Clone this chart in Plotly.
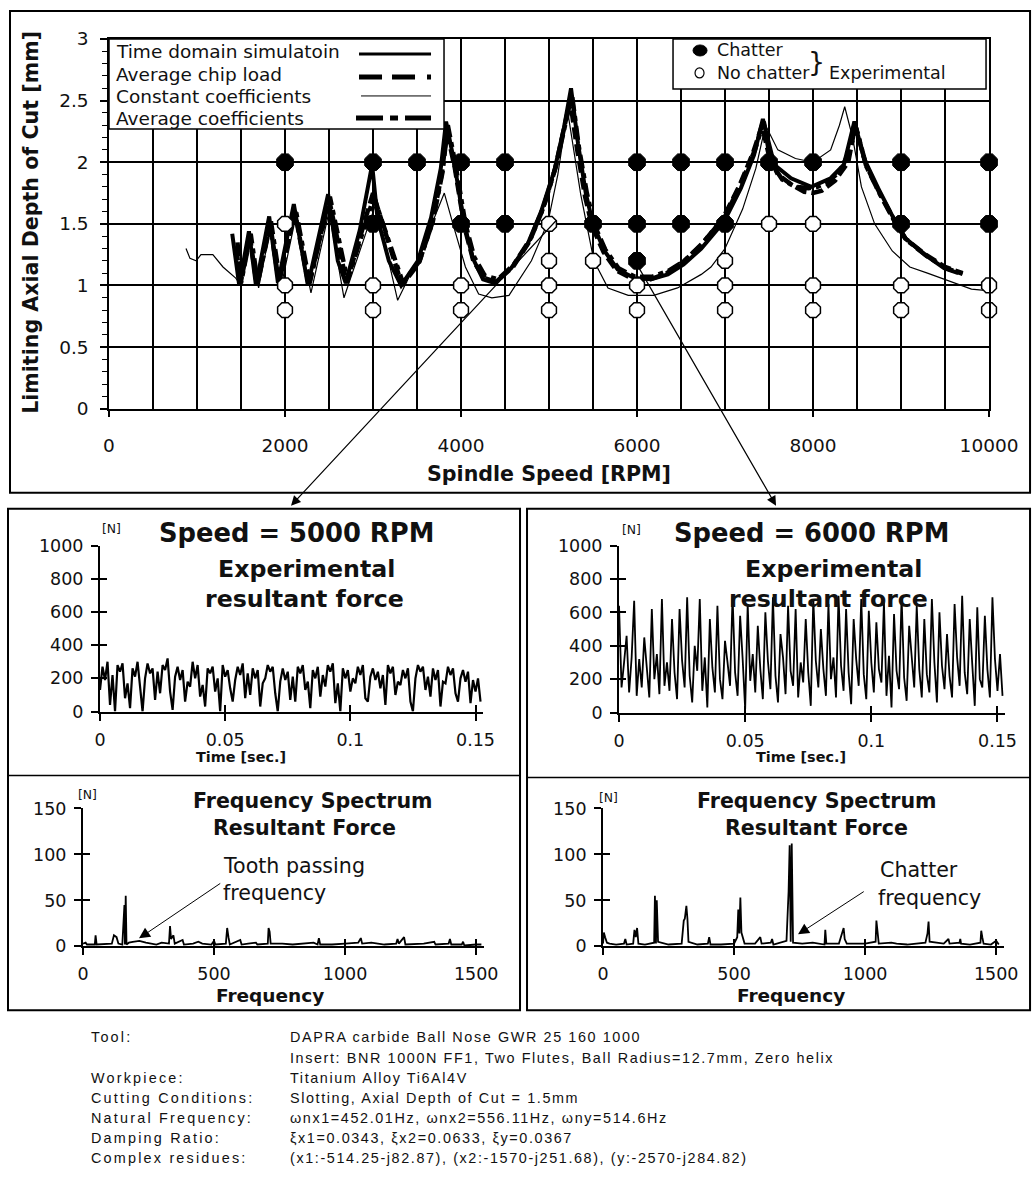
import plotly.graph_objects as go

# ---------------- data: stability lobes (Spindle Speed [RPM] vs Limiting Axial Depth of Cut [mm]) ----------------
td_rpm = [1400, 1480, 1590, 1670, 1820, 1920, 2100, 2260, 2490, 2600, 2690, 2850, 2990, 3050, 3180, 3320,
          3510, 3660, 3770, 3830, 3920, 4035, 4135, 4250, 4380, 4570, 4760, 4910, 5060, 5170, 5250, 5330,
          5420, 5500, 5630, 5780, 5970, 6160, 6350, 6530, 6730, 6990, 7180, 7330, 7430, 7560, 7750, 7980,
          8200, 8350, 8470, 8580, 8740, 8890, 9040, 9270, 9490, 9650]
td_doc = [1.42, 1.0, 1.44, 1.0, 1.56, 1.02, 1.66, 1.0, 1.74, 1.2, 1.02, 1.45, 1.98, 1.55, 1.2, 1.0,
          1.2, 1.55, 1.95, 2.33, 2.01, 1.5, 1.22, 1.05, 1.02, 1.14, 1.34, 1.6, 1.93, 2.28, 2.6, 2.15,
          1.74, 1.5, 1.28, 1.13, 1.06, 1.05, 1.09, 1.17, 1.3, 1.52, 1.79, 2.06, 2.35, 1.98, 1.87, 1.8,
          1.87, 1.98, 2.33, 2.03, 1.79, 1.58, 1.39, 1.25, 1.14, 1.1]

acl_rpm = [1450, 1490, 1600, 1680, 1830, 1930, 2110, 2270, 2500, 2700, 3000, 3330, 3520, 3670, 3780, 3840,
           3930, 4040, 4140, 4260, 4400, 4590, 4780, 4930, 5070, 5180, 5240, 5320, 5410, 5490, 5620, 5770,
           5960, 6150, 6340, 6520, 6720, 6980, 7170, 7320, 7420, 7500, 7600, 7750, 7900, 8000, 8100, 8250,
           8400, 8480, 8600, 8750, 8900, 9050, 9280, 9500, 9700]
acl_doc = [1.3, 1.0, 1.4, 1.0, 1.5, 1.03, 1.6, 1.0, 1.7, 1.02, 1.75, 1.0, 1.18, 1.5, 1.9, 2.25,
           1.95, 1.47, 1.2, 1.06, 1.03, 1.15, 1.36, 1.62, 1.95, 2.3, 2.5, 2.1, 1.72, 1.48, 1.27, 1.12,
           1.05, 1.05, 1.1, 1.19, 1.32, 1.55, 1.82, 2.08, 2.3, 2.05, 1.9, 1.82, 1.76, 1.75, 1.77, 1.85,
           2.0, 2.3, 1.98, 1.76, 1.56, 1.38, 1.25, 1.15, 1.1]

aco_rpm = [1460, 1500, 1610, 1690, 1840, 1940, 2120, 2280, 2510, 2710, 3010, 3340, 3530, 3680, 3790, 3850,
           3940, 4050, 4150, 4270, 4420, 4600, 4790, 4940, 5080, 5190, 5260, 5340, 5430, 5510, 5640, 5790,
           5980, 6170, 6360, 6540, 6740, 7000, 7190, 7340, 7440, 7520, 7650, 7800, 7950, 8050, 8150, 8300,
           8420, 8490, 8610, 8760, 8910, 9060, 9290, 9510, 9720]
aco_doc = [1.35, 1.02, 1.42, 1.02, 1.52, 1.05, 1.62, 1.02, 1.72, 1.04, 1.72, 1.02, 1.2, 1.52, 1.92, 2.3,
           1.97, 1.5, 1.23, 1.08, 1.05, 1.17, 1.38, 1.64, 1.97, 2.32, 2.55, 2.12, 1.75, 1.5, 1.29, 1.14,
           1.07, 1.07, 1.12, 1.2, 1.34, 1.56, 1.84, 2.1, 2.33, 2.0, 1.86, 1.8, 1.79, 1.8, 1.83, 1.92,
           2.1, 2.28, 1.96, 1.74, 1.54, 1.37, 1.24, 1.14, 1.09]

cc_rpm = [875, 920, 990, 1045, 1180, 1295, 1440, 1500, 1600, 1700, 1830, 1950, 2120, 2295, 2500, 2670,
          3030, 3280, 3500, 3700, 3810, 3920, 4050, 4200, 4350, 4545, 4800, 4990, 5100, 5210, 5360, 5510,
          5670, 5900, 6190, 6460, 6730, 6840, 7000, 7200, 7350, 7460, 7600, 7800, 8000, 8200, 8300, 8360,
          8450, 8550, 8700, 8900, 9100, 9300, 9500, 9700, 9800, 9950]
cc_doc = [1.3, 1.22, 1.2, 1.25, 1.25, 1.15, 1.06, 1.0, 1.35, 0.98, 1.45, 0.97, 1.55, 0.94, 1.6, 0.9,
          1.66, 0.88, 1.2, 1.55, 1.75, 1.47, 1.15, 0.93, 0.9, 0.92, 1.2, 1.52, 1.9, 2.42, 1.74, 1.2,
          0.98, 0.92, 0.92, 0.98, 1.09, 1.15, 1.3, 1.62, 1.95, 2.3, 2.1, 2.03, 2.0, 2.1, 2.3, 2.45,
          2.2, 1.8, 1.5, 1.28, 1.15, 1.1, 1.05, 1.0, 0.97, 0.96]

chatter_rpm = [2000, 3000, 3500, 4000, 4500, 6000, 6500, 7000, 7500, 8000, 9000, 10000,
               3000, 4000, 4500, 5500, 6000, 6500, 7000, 9000, 10000, 6000]
chatter_doc = [2.0, 2.0, 2.0, 2.0, 2.0, 2.0, 2.0, 2.0, 2.0, 2.0, 2.0, 2.0,
               1.5, 1.5, 1.5, 1.5, 1.5, 1.5, 1.5, 1.5, 1.5, 1.2]
nochat_rpm = [2000, 2000, 2000, 3000, 3000, 4000, 4000, 5000, 5000, 5000, 5000, 5500, 6000, 6000,
              7000, 7000, 7000, 7500, 8000, 8000, 8000, 9000, 9000, 10000, 10000]
nochat_doc = [1.5, 1.0, 0.8, 1.0, 0.8, 1.0, 0.8, 1.5, 1.2, 1.0, 0.8, 1.2, 1.0, 0.8,
              1.2, 1.0, 0.8, 1.5, 1.5, 1.0, 0.8, 1.0, 0.8, 1.0, 0.8]

main_xticks = [0, 2000, 4000, 6000, 8000, 10000]

# ---------------- data: measured resultant force [N], sampled every 1 ms ----------------
dt = 0.001
force_5000 = [
    130, 270, 190, 300, 40, 220, 0, 280, 240, 290, 80, 170, 20, 260, 210, 300, 150, 0,
    200, 290, 230, 260, 70, 240, 110, 280, 250, 320, 120, 10, 210, 270, 190, 250, 60, 180,
    150, 300, 200, 280, 90, 160, 30, 260, 230, 270, 120, 200, 0, 280, 210, 250, 140, 60,
    190, 270, 220, 290, 80, 230, 100, 260, 200, 250, 30, 170, 200, 280, 240, 270, 110, 0,
    180, 260, 190, 240, 70, 210, 60, 270, 230, 280, 130, 180, 20, 250, 200, 270, 90, 220,
    150, 280, 240, 290, 50, 170, 0, 260, 200, 250, 120, 200, 170, 270, 220, 280, 80, 60,
    210, 260, 190, 240, 140, 220, 40, 280, 230, 270, 100, 180, 160, 250, 200, 260, 60, 0,
    200, 280, 240, 270, 130, 210, 90, 260, 190, 250, 30, 180, 170, 270, 220, 260, 110, 60,
    200, 250, 180, 240, 50, 190, 120, 200, 60]
force_6000 = [
    640, 150, 300, 460, 120, 330, 670, 100, 320, 150, 450, 280, 90, 620, 200, 350, 110, 680, 160, 300,
    130, 560, 240, 80, 620, 310, 150, 690, 220, 60, 400, 250, 680, 130, 330, 30, 560, 270, 120, 640,
    200, 80, 430, 300, 160, 700, 240, 100, 580, 320, 20, 650, 190, 350, 120, 520, 260, 80, 600, 310,
    140, 690, 220, 60, 470, 330, 110, 640, 250, 160, 620, 90, 300, 180, 560, 240, 40, 680, 310, 150,
    500, 260, 100, 650, 200, 330, 90, 700, 280, 130, 620, 240, 50, 560, 320, 160, 680, 230, 80, 610,
    300, 120, 540, 260, 180, 660, 100, 340, 30, 590, 250, 140, 690, 210, 70, 520, 310, 150, 640, 260,
    90, 560, 230, 120, 680, 300, 60, 600, 280, 140, 470, 220, 90, 650, 330, 160, 700, 240, 110, 560,
    290, 40, 630, 200, 150, 580, 260, 90, 690, 320, 130, 350, 100]
time_ticks = [0, 0.05, 0.1, 0.15]
time_ticktext = ["0", "0.05", "0.1", "0.15"]
force_ticks = [0, 200, 400, 600, 800, 1000]

# ---------------- data: frequency spectra [Hz] -> [N] ----------------
spec5000_f = [0, 10, 15, 45, 48, 52, 110, 118, 128, 135, 150, 158, 160, 163, 166, 175, 190, 215, 240,
              280, 300, 328, 332, 336, 345, 350, 380, 385, 420, 440, 455, 490, 500, 505, 545, 550, 555,
              560, 600, 605, 630, 660, 665, 705, 708, 712, 716, 760, 800, 850, 880, 895, 900, 905, 950,
              1000, 1050, 1060, 1065, 1100, 1150, 1195, 1200, 1205, 1225, 1230, 1300, 1340, 1345, 1395,
              1400, 1405, 1445, 1450, 1455, 1500, 1520]
spec5000_a = [3, 4, 2, 2, 12, 2, 3, 12, 10, 3, 2, 45, 2, 55, 2, 4, 5, 6, 4,
              2, 4, 3, 22, 8, 12, 3, 7, 2, 3, 5, 3, 2, 6, 2, 3, 20, 10,
              2, 7, 2, 3, 4, 2, 3, 20, 16, 3, 3, 2, 3, 4, 2, 9, 2, 2,
              3, 4, 9, 3, 4, 2, 3, 8, 3, 10, 2, 3, 5, 2, 3,
              8, 2, 2, 5, 1, 2, 2]
spec6000_f = [0, 3, 8, 15, 25, 50, 80, 85, 90, 115, 120, 125, 130, 135, 160, 195, 198, 202, 205, 210,
              250, 300, 308, 312, 318, 322, 326, 360, 400, 405, 410, 450, 500, 512, 516, 520, 524, 528,
              540, 580, 600, 605, 640, 645, 650, 680, 700, 708, 712, 716, 720, 725, 760, 800, 845, 848,
              852, 900, 918, 922, 930, 1000, 1040, 1043, 1047, 1052, 1100, 1120, 1160, 1230, 1238, 1242,
              1246, 1300, 1318, 1322, 1360, 1363, 1366, 1400, 1440, 1443, 1447, 1452, 1480, 1500, 1510]
spec6000_a = [3, 15, 10, 4, 3, 2, 3, 8, 2, 3, 18, 10, 20, 3, 2, 4, 55, 3, 50, 5,
              2, 3, 28, 30, 44, 30, 5, 2, 3, 10, 2, 2, 3, 10, 40, 14, 53, 15,
              3, 3, 10, 3, 4, 8, 2, 4, 6, 60, 110, 5, 112, 4, 3, 4, 2, 18,
              3, 3, 20, 8, 3, 3, 5, 28, 18, 3, 4, 3, 2, 4, 14, 27,
              5, 3, 8, 3, 4, 8, 3, 2, 4, 17, 10, 3, 2, 6, 2]
freq_ticks = [0, 500, 1000, 1500]
spec_ticks = [0, 50, 100, 150]

# ---------------- layout helpers ----------------
# Positions below are written in the reference picture's pixels and mapped onto the figure canvas.
W, H = 1062, 1188
SX, SY = 0.967, 0.983
OX, OY = 5, 10
FONT = "DejaVu Sans"
TXT = "Liberation Sans, Arial, sans-serif"


def px(v):
    return min(max((v - OX) / SX / W, 0), 1)


def py(v):
    return min(max(1 - (v - OY) / SY / H, 0), 1)


def fs(s):
    return round(s * 1.03, 1)


def axis(domain, rng, anchor, tickvals, ticktext=None, size=17, standoff=4, **kw):
    d = dict(domain=domain, range=rng, anchor=anchor, showline=True, linecolor="black", linewidth=2,
             ticks="outside", tickcolor="black", tickwidth=1.5, ticklen=7, showgrid=False, zeroline=False,
             tickmode="array", tickvals=tickvals, ticktext=ticktext if ticktext else [str(t) for t in tickvals],
             tickfont=dict(family=FONT, size=fs(size), color="#111"), ticklabelstandoff=standoff, fixedrange=True)
    d.update(kw)
    return d


def overlay(base, anchor, rng, tickvals, side):
    return dict(overlaying=base, anchor=anchor, range=rng, side=side, ticks="inside", ticklen=7,
                tickwidth=1.5, tickcolor="black", tickmode="array", tickvals=tickvals, showticklabels=False,
                showline=False, showgrid=False, zeroline=False, fixedrange=True)


fig = go.Figure()

# ---------------- main stability chart ----------------
fig.add_trace(go.Scatter(x=cc_rpm, y=cc_doc, mode="lines", line=dict(color="black", width=1.2),
                         xaxis="x", yaxis="y", showlegend=False))
fig.add_trace(go.Scatter(x=aco_rpm, y=aco_doc, mode="lines",
                         line=dict(color="black", width=4.5, dash="14px,5px,5px,5px"),
                         xaxis="x", yaxis="y", showlegend=False))
fig.add_trace(go.Scatter(x=acl_rpm, y=acl_doc, mode="lines", line=dict(color="black", width=4.5, dash="12px,5px"),
                         xaxis="x", yaxis="y", showlegend=False))
fig.add_trace(go.Scatter(x=td_rpm, y=td_doc, mode="lines", line=dict(color="black", width=4),
                         xaxis="x", yaxis="y", showlegend=False))
fig.add_trace(go.Scatter(x=nochat_rpm, y=nochat_doc, mode="markers",
                         marker=dict(symbol="octagon", size=16, color="white", line=dict(color="black", width=1.5)),
                         xaxis="x", yaxis="y", showlegend=False, cliponaxis=False))
fig.add_trace(go.Scatter(x=chatter_rpm, y=chatter_doc, mode="markers",
                         marker=dict(symbol="octagon", size=18, color="black", line=dict(color="black", width=1)),
                         xaxis="x", yaxis="y", showlegend=False, cliponaxis=False))

# ---------------- force signals ----------------
t5000 = [i * dt for i in range(len(force_5000))]
t6000 = [i * dt for i in range(len(force_6000))]
fig.add_trace(go.Scatter(x=t5000, y=force_5000, mode="lines", line=dict(color="black", width=2.2),
                         xaxis="x2", yaxis="y2", showlegend=False))
fig.add_trace(go.Scatter(x=t6000, y=force_6000, mode="lines", line=dict(color="black", width=1.8),
                         xaxis="x3", yaxis="y3", showlegend=False))
fig.add_trace(go.Scatter(x=spec5000_f, y=spec5000_a, mode="lines", line=dict(color="black", width=1.8),
                         xaxis="x4", yaxis="y4", showlegend=False))
fig.add_trace(go.Scatter(x=spec6000_f, y=spec6000_a, mode="lines", line=dict(color="black", width=1.8),
                         xaxis="x5", yaxis="y5", showlegend=False))

# dummy traces so that the "inside" halves of the cross ticks are drawn
for xa, ya in [("x2", "y6"), ("x6", "y2"), ("x3", "y7"), ("x7", "y3"),
               ("x4", "y8"), ("x8", "y4"), ("x5", "y9"), ("x9", "y5")]:
    fig.add_trace(go.Scatter(x=[None], y=[None], xaxis=xa, yaxis=ya, showlegend=False, hoverinfo="skip"))

TR = [0, 0.153]
FR = [0, 1530]
layout_axes = dict(
    xaxis=dict(domain=[px(108), px(988)], range=[0, 10000], anchor="y", tickmode="array", tickvals=main_xticks,
               ticktext=[str(v) for v in main_xticks], ticks="outside", ticklen=7, tickwidth=1.5,
               tickcolor="black", showgrid=True, gridcolor="black", gridwidth=1.5,
               minor=dict(dtick=500, tick0=0, showgrid=True, gridcolor="black", gridwidth=1.5, ticks=""),
               showline=True, linecolor="black", linewidth=1.5, mirror=True, zeroline=False,
               tickfont=dict(family=FONT, size=fs(18), color="#111"), ticklabelstandoff=12, fixedrange=True),
    yaxis=dict(domain=[py(408), py(38)], range=[0, 3], anchor="x", tickmode="linear", dtick=0.5, tick0=0,
               ticks="outside", ticklen=7, tickwidth=1.5, tickcolor="black", showgrid=True, gridcolor="black",
               gridwidth=1.5, minor=dict(dtick=0.1, ticks="outside", ticklen=5, tickcolor="black", tickwidth=1,
                                         showgrid=False),
               showline=True, linecolor="black", linewidth=1.5, mirror=True, zeroline=False,
               tickfont=dict(family=FONT, size=fs(18), color="#111"), ticklabelstandoff=8, fixedrange=True),
    xaxis2=axis([px(99), px(482)], TR, "y2", time_ticks, time_ticktext),
    yaxis2=axis([py(711), py(545)], [0, 1000], "x2", force_ticks),
    xaxis3=axis([px(618), px(1004)], TR, "y3", time_ticks, time_ticktext),
    yaxis3=axis([py(712), py(545)], [0, 1000], "x3", force_ticks),
    xaxis4=axis([px(82), px(483)], FR, "y4", freq_ticks),
    yaxis4=axis([py(946), py(808)], [0, 150], "x4", spec_ticks),
    xaxis5=axis([px(602), px(1003)], FR, "y5", freq_ticks),
    yaxis5=axis([py(946), py(808)], [0, 150], "x5", spec_ticks),
    xaxis6=overlay("x2", "y2", TR, time_ticks, "bottom"),
    yaxis6=overlay("y2", "x2", [0, 1000], force_ticks, "left"),
    xaxis7=overlay("x3", "y3", TR, time_ticks, "bottom"),
    yaxis7=overlay("y3", "x3", [0, 1000], force_ticks, "left"),
    xaxis8=overlay("x4", "y4", FR, freq_ticks, "bottom"),
    yaxis8=overlay("y4", "x4", [0, 150], spec_ticks, "left"),
    xaxis9=overlay("x5", "y5", FR, freq_ticks, "bottom"),
    yaxis9=overlay("y5", "x5", [0, 150], spec_ticks, "left"),
)


# ---------------- shapes (frames, legend boxes, legend samples) ----------------
def rect(x0, y0, x1, y1, width=2, fill=None, layer="below", color="black"):
    return dict(type="rect", xref="paper", yref="paper", x0=px(x0), x1=px(x1), y0=py(y1), y1=py(y0),
                line=dict(color=color, width=width), fillcolor=fill if fill else "rgba(0,0,0,0)", layer=layer)


def hline(x0, x1, y, width=1.5, dash="solid", layer="above"):
    return dict(type="line", xref="paper", yref="paper", x0=px(x0), x1=px(x1), y0=py(y), y1=py(y),
                line=dict(color="black", width=width, dash=dash), layer=layer)


shapes = [
    rect(9, 10, 1029, 492, width=2),
    rect(7, 508, 519, 1010, width=2),
    hline(7, 519, 775, width=1.5, layer="below"),
    rect(526, 508, 1029, 1010, width=2),
    hline(526, 1029, 777, width=1.5, layer="below"),
    rect(108, 38, 443, 128, width=1.5, fill="white", layer="above"),
    rect(672, 38, 985, 88, width=1.5, fill="white", layer="above"),
    hline(358, 430, 53, width=3),
    hline(358, 430, 76, width=5, dash="23px,10px,23px,12px,4px"),
    hline(360, 430, 95, width=1),
    hline(355, 430, 117, width=5, dash="27px,7px,8px,7px"),
    dict(type="circle", xref="paper", yref="paper", x0=px(692), x1=px(706), y0=py(55), y1=py(44),
         fillcolor="black", line=dict(color="black", width=1), layer="above"),
    dict(type="circle", xref="paper", yref="paper", x0=px(694), x1=px(703), y0=py(77), y1=py(67),
         fillcolor="white", line=dict(color="black", width=1.2), layer="above"),
]


# ---------------- annotations ----------------
def txt(x, y, s, size, bold=False, anchor="center", family=FONT, angle=0, spacing=None):
    s = f"<b>{s}</b>" if bold else s
    if spacing:
        s = f'<span style="letter-spacing:{spacing}px">{s}</span>'
    return dict(x=px(x), y=py(y), xref="paper", yref="paper", text=s,
                showarrow=False, font=dict(family=family, size=fs(size), color="#111"), xanchor=anchor,
                yanchor="middle", textangle=angle)


def arrow(hx, hy, tx, ty, size=1.5, width=1.2):
    return dict(x=px(hx), y=py(hy), xref="paper", yref="paper", text="", showarrow=True,
                ax=(tx - hx) / SX, ay=(ty - hy) / SY, axref="pixel", ayref="pixel", arrowhead=2,
                arrowsize=size, arrowwidth=width, arrowcolor="black")


ann = [
    txt(30, 222, "Limiting Axial Depth of Cut [mm]", 20, bold=True, angle=-90),
    txt(548, 473, "Spindle Speed [RPM]", 20, bold=True),
    txt(113, 51, "Time domain simulatoin", 18, anchor="left"),
    txt(113, 74, "Average chip load", 18, anchor="left"),
    txt(113, 96, "Constant coefficients", 18, anchor="left"),
    txt(113, 118, "Average coefficients", 18, anchor="left"),
    txt(714, 49, "Chatter", 17, anchor="left"),
    txt(714, 72, "No chatter", 17, anchor="left"),
    txt(815, 61, "}", 26),
    txt(826, 72, "Experimental", 17, anchor="left"),
    # force panels
    txt(110, 528, "[N]", 12),
    txt(295, 532, "Speed = 5000 RPM", 25, bold=True),
    txt(305, 568, "Experimental", 23, bold=True),
    txt(303, 598, "resultant force", 23, bold=True),
    txt(240, 757, "Time [sec.]", 14, bold=True),
    txt(630, 529, "[N]", 12),
    txt(810, 532, "Speed = 6000 RPM", 25, bold=True),
    txt(832, 568, "Experimental", 23, bold=True),
    txt(827, 598, "resultant force", 23, bold=True),
    txt(800, 757, "Time [sec.]", 14, bold=True),
    # spectrum panels
    txt(86, 794, "[N]", 12),
    txt(312, 801, "Frequency Spectrum", 20, bold=True),
    txt(303, 828, "Resultant Force", 20, bold=True),
    txt(220, 866, "Tooth passing", 20, anchor="left"),
    txt(220, 893, "frequency", 20, anchor="left"),
    txt(269, 995, "Frequency", 18, bold=True),
    txt(607, 797, "[N]", 12),
    txt(816, 801, "Frequency Spectrum", 20, bold=True),
    txt(815, 828, "Resultant Force", 20, bold=True),
    txt(877, 870, "Chatter", 20, anchor="left"),
    txt(875, 898, "frequency", 20, anchor="left"),
    txt(790, 995, "Frequency", 18, bold=True),
    # arrows
    arrow(290, 505, 548, 223, size=1.6, width=1.2),
    arrow(775, 505, 636, 260, size=1.6, width=1.2),
    arrow(138, 938, 218, 883, size=2.2, width=1.0),
    arrow(797, 934, 862, 891, size=2.2, width=1.0),
]

info_labels = ["Tool:", "", "Workpiece:", "Cutting Conditions:", "Natural Frequency:", "Damping Ratio:",
               "Complex residues:"]
info_values = ["DAPRA carbide Ball Nose GWR 25 160 1000",
               "Insert: BNR 1000N FF1, Two Flutes, Ball Radius=12.7mm, Zero helix",
               "Titanium Alloy Ti6Al4V",
               "Slotting, Axial Depth of Cut = 1.5mm",
               "ωnx1=452.01Hz, ωnx2=556.11Hz, ωny=514.6Hz",
               "ξx1=0.0343, ξx2=0.0633, ξy=0.0367",
               "(x1:-514.25-j82.87), (x2:-1570-j251.68), (y:-2570-j284.82)"]
info_y = [1037, 1058, 1078, 1098, 1118, 1138, 1158]
for lab, val, yy in zip(info_labels, info_values, info_y):
    if lab:
        ann.append(txt(88, yy, lab, 14, anchor="left", family=TXT, spacing=2.2))
    ann.append(txt(287, yy, val, 14, anchor="left", family=TXT, spacing=1.6))

fig.update_layout(width=W, height=H, margin=dict(l=0, r=0, t=0, b=0), paper_bgcolor="white",
                  plot_bgcolor="rgba(0,0,0,0)", showlegend=False, shapes=shapes, annotations=ann,
                  font=dict(family=FONT, color="#111"), **layout_axes)

fig.write_html("out.html", config={"displayModeBar": False})
